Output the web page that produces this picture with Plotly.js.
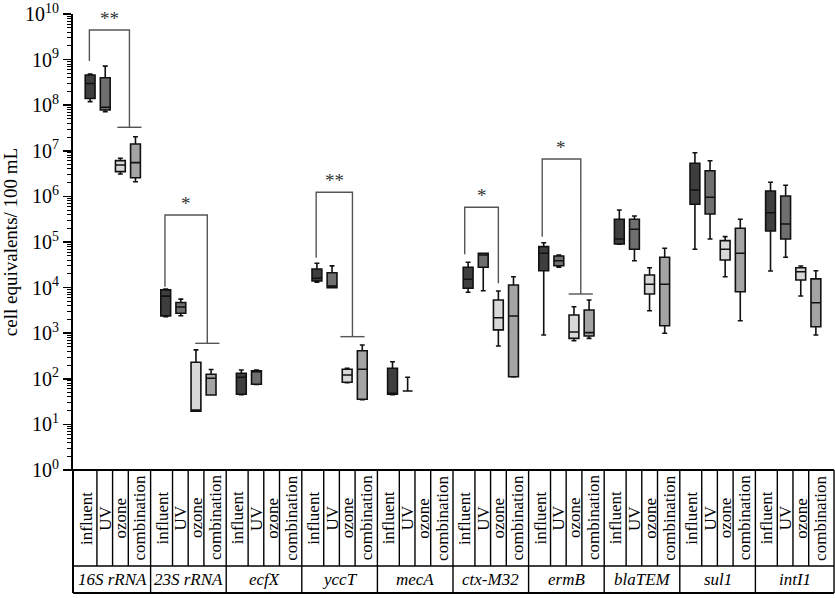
<!DOCTYPE html>
<html><head><meta charset="utf-8">
<script src="https://cdn.plot.ly/plotly-3.0.1.min.js"></script>
<style>html,body{margin:0;padding:0;background:#fff}#chart{width:835px;height:598px}</style>
</head><body><div id="chart"></div>
<script>
// ---------- data ----------
const genes = ['16S rRNA','23S rRNA','ecfX','yccT','mecA','ctx-M32','ermB','blaTEM','sul1','intI1'];
const treatments = ['influent','UV','ozone','combination'];

// influent
const influentLow  = [1.2e8, 2.3e3, 45,    1.31e4, 45,    7.9e3,  9.1e2,  9.0e4,  6.92e4, 2.31e4];
const influentQ1   = [1.4e8, 2.4e3, 46,    1.4e4,  46,    9.66e3, 2.35e4, 9.04e4, 6.71e5, 1.74e5];
const influentMed  = [3.0e8, 6.5e3, 108,   1.6e4,  47,    1.52e4, 5.65e4, 1.16e5, 1.38e6, 4.39e5];
const influentQ3   = [4.6e8, 8.9e3, 132,   2.56e4, 170,   2.79e4, 7.9e4,  3.15e5, 5.32e6, 1.31e6];
const influentHigh = [4.8e8, 9.3e3, 156,   3.41e4, 237,   3.59e4, 9.66e4, 5.04e5, 9.08e6, 2.04e6];
// UV
const uvLow  = [7.2e7, 2.42e3, 75,  9.9e3,  54,  8.55e3, 2.79e4, 3.89e4, 1.16e5, 4.62e4];
const uvQ1   = [7.85e7,2.73e3, 76,  9.95e3, 54,  2.79e4, 3.02e4, 6.92e4, 4.11e5, 1.16e5];
const uvMed  = [9.0e7, 3.76e3, 148, 1.08e4, 54,  5.2e4,  3.89e4, 1.9e5,  9.55e5, 2.48e5];
const uvQ3   = [4.0e8, 4.7e3,  150, 2.12e4, 54,  5.65e4, 4.93e4, 3.15e5, 3.66e6, 1.02e6];
const uvHigh = [7.2e8, 5.6e3,  156, 3.0e4,  108, 5.65e4, 5.19e4, 3.72e5, 6.07e6, 1.75e6];
// ozone
const ozoneLow  = [3.1e6, 19.5, null, 82,  null, 5.24e2, 6.85e2, 3.11e3, 1.73e4, 6.54e3];
const ozoneQ1   = [3.5e6, 19.5, null, 84,  null, 1.18e3, 7.7e2,  7.24e3, 4.03e4, 1.47e4];
const ozoneMed  = [4.9e6, 20,   null, 121, null, 2.19e3, 1.06e3, 1.18e4, 6.92e4, 2.23e4];
const ozoneQ3   = [6.1e6, 230,  null, 162, null, 5.35e3, 2.5e3,  1.89e4, 1.07e5, 2.73e4];
const ozoneHigh = [6.85e6,430,  null, 170, null, 8.42e3, 3.81e3, 2.73e4, 1.31e5, 2.98e4];
// combination
const comboLow  = [2.1e6,  44,  null, 35,   null, 110,    7.7e2,  9.95e2, 1.88e3, 9.1e2];
const comboQ1   = [2.57e6, 44,  null, 35.5, null, 111,    8.68e2, 1.46e3, 8.13e3, 1.39e3];
const comboMed  = [5.5e6,  103, null, 162,  null, 2.38e3, 1.03e3, 1.18e4, 5.65e4, 4.67e3];
const comboQ3   = [1.41e7, 126, null, 413,  null, 1.14e4, 3.23e3, 4.62e4, 2.0e5,  1.55e4];
const comboHigh = [2.04e7, 160, null, 550,  null, 1.73e4, 5.35e3, 7.28e4, 3.15e5, 2.35e4];

// significance brackets
const sigGenes   = ['16S rRNA','23S rRNA','yccT','ctx-M32','ermB'];
const sigLabels  = ['**','*','**','*','*'];
const sigTop     = [4.46e9, 3.91e5, 1.23e6, 5.77e5, 6.6e6];
const sigLeftEnd = [9.3e8, 1.05e4, 4.53e4, 5.37e4, 1.31e5];
const sigRightEnd= [3.28e7, 6.0e2, 8.4e2, 1.24e4, 7.24e3];
const sigHasBase = [true, true, true, false, true];

// y tick labels
const yTickVals = [1,1e1,1e2,1e3,1e4,1e5,1e6,1e7,1e8,1e9,1e10];
const yTickText = ['10<sup>0</sup>','10<sup>1</sup>','10<sup>2</sup>','10<sup>3</sup>','10<sup>4</sup>','10<sup>5</sup>','10<sup>6</sup>','10<sup>7</sup>','10<sup>8</sup>','10<sup>9</sup>','10<sup>10</sup>'];

// ---------- styling / layout config ----------
const boxFrac = [0.2, 0.4, 0.6, 0.8];
const boxFill = ['#3e3e3e', '#6f6f6f', '#d8d8d8', '#a4a4a4'];
const colDiv = [0.29, 0.497, 0.705];
const colCenter = [0.145, 0.394, 0.601, 0.853];
const sigLeftFrac  = [0.19, 0.19, 0.19, 0.155, 0.18];
const sigRightFrac = [0.72, 0.75, 0.67, 0.60, 0.69];
const XMIN = -0.0265, XMAX = 10, TABLE_RIGHT = 10.04;
const toPaper = v => (v - XMIN) / (XMAX - XMIN);
const PLOT_TOP = 14, PLOT_BOTTOM = 470, PH = PLOT_BOTTOM - PLOT_TOP;
const pyPaper = p => (PLOT_BOTTOM - p) / PH;
const SERIF = 'Liberation Serif, Times New Roman, serif';

const series = [
  {low: influentLow, q1: influentQ1, med: influentMed, q3: influentQ3, high: influentHigh},
  {low: uvLow, q1: uvQ1, med: uvMed, q3: uvQ3, high: uvHigh},
  {low: ozoneLow, q1: ozoneQ1, med: ozoneMed, q3: ozoneQ3, high: ozoneHigh},
  {low: comboLow, q1: comboQ1, med: comboMed, q3: comboQ3, high: comboHigh}
];

const traces = [];
series.forEach((s, k) => {
  const x = [], q1 = [], med = [], q3 = [], lo = [], hi = [];
  genes.forEach((g, i) => {
    if (s.med[i] == null) return;
    x.push(i + boxFrac[k]); q1.push(s.q1[i]); med.push(s.med[i]); q3.push(s.q3[i]);
    lo.push(s.low[i]); hi.push(s.high[i]);
  });
  traces.push({
    type: 'box', name: treatments[k], x: x, q1: q1, median: med, q3: q3,
    lowerfence: lo, upperfence: hi, width: 0.13, whiskerwidth: 0.5,
    fillcolor: boxFill[k], line: {color: '#111', width: 1.6},
    boxpoints: false, hoverinfo: 'skip', showlegend: false
  });
});

const annotations = [];
sigGenes.forEach((g, j) => {
  const gi = genes.indexOf(g);
  const L = gi + sigLeftFrac[j], R = gi + sigRightFrac[j];
  traces.push({type: 'scatter', mode: 'lines', x: [L, L, R, R],
    y: [sigLeftEnd[j], sigTop[j], sigTop[j], sigRightEnd[j]],
    line: {color: '#555', width: 1.4}, hoverinfo: 'skip', showlegend: false});
  if (sigHasBase[j]) {
    traces.push({type: 'scatter', mode: 'lines', x: [R - 0.16, R + 0.16],
      y: [sigRightEnd[j], sigRightEnd[j]],
      line: {color: '#555', width: 1.4}, hoverinfo: 'skip', showlegend: false});
  }
  annotations.push({xref: 'x', yref: 'y', x: (L + R) / 2, y: Math.log10(sigTop[j]),
    text: sigLabels[j], showarrow: false, xanchor: 'center', yanchor: 'bottom', yshift: -1,
    font: {size: 19, color: '#333', family: SERIF}});
});

// table below the axis
const shapes = [];
const lineStyle = {color: '#000', width: 1.4};
const yRow = pyPaper(566), yBot = pyPaper(593);
shapes.push({type: 'line', xref: 'paper', yref: 'paper', x0: toPaper(XMIN) - 0.0106, x1: toPaper(TABLE_RIGHT), y0: 0, y1: 0, line: {color: '#000', width: 2}});
shapes.push({type: 'line', xref: 'paper', yref: 'paper', x0: 0, x1: toPaper(TABLE_RIGHT), y0: yRow, y1: yRow, line: lineStyle});
shapes.push({type: 'line', xref: 'paper', yref: 'paper', x0: 0, x1: toPaper(TABLE_RIGHT), y0: yBot, y1: yBot, line: {color: '#000', width: 2}});
shapes.push({type: 'line', xref: 'paper', yref: 'paper', x0: 0, x1: 0, y0: 0, y1: yBot, line: {color: '#000', width: 2}});
shapes.push({type: 'line', xref: 'paper', yref: 'paper', x0: toPaper(TABLE_RIGHT), x1: toPaper(TABLE_RIGHT), y0: 0, y1: yBot, line: lineStyle});
genes.forEach((g, i) => {
  if (i > 0) shapes.push({type: 'line', xref: 'paper', yref: 'paper', x0: toPaper(i), x1: toPaper(i), y0: 0, y1: yBot, line: lineStyle});
  colDiv.forEach(f => shapes.push({type: 'line', xref: 'paper', yref: 'paper', x0: toPaper(i + f), x1: toPaper(i + f), y0: 0, y1: yRow, line: lineStyle}));
  treatments.forEach((t, k) => {
    annotations.push({xref: 'paper', yref: 'paper', x: toPaper(i + colCenter[k]), y: pyPaper(518),
      text: t, textangle: -90, showarrow: false, xanchor: 'center', yanchor: 'middle',
      font: {size: 17, color: '#000', family: SERIF}});
  });
  const gx = i === genes.length - 1 ? (i + TABLE_RIGHT) / 2 : i + 0.5;
  annotations.push({xref: 'paper', yref: 'paper', x: toPaper(gx), y: pyPaper(579.5),
    text: '<i>' + g + '</i>', showarrow: false, xanchor: 'center', yanchor: 'middle',
    font: {size: 17, color: '#000', family: SERIF}});
});

const minorVals = [];
for (let e = 0; e < 10; e++) for (let m = 2; m <= 9; m++) minorVals.push(m * Math.pow(10, e));

const layout = {
  width: 835, height: 598,
  margin: {l: 73, r: 4, t: PLOT_TOP, b: 598 - PLOT_BOTTOM},
  paper_bgcolor: '#fff', plot_bgcolor: '#fff', showlegend: false,
  font: {family: SERIF, color: '#000'},
  boxmode: 'overlay',
  xaxis: {range: [XMIN, XMAX], showticklabels: false, ticks: '', showgrid: false, zeroline: false,
    showline: false, fixedrange: true},
  yaxis: {type: 'log', range: [0, 10], tickmode: 'array', tickvals: yTickVals, ticktext: yTickText,
    ticks: 'outside', ticklen: 8, tickwidth: 1.5, tickcolor: '#000',
    showline: true, linewidth: 2, linecolor: '#000', showgrid: false, zeroline: false,
    tickfont: {size: 20, color: '#000', family: SERIF}, automargin: false, ticklabeloverflow: 'allow',
    minor: {tickmode: 'array', tickvals: minorVals, ticks: 'outside', ticklen: 4, tickwidth: 1, tickcolor: '#000', showgrid: false},
    title: {text: 'cell equivalents/ 100 mL', font: {size: 19, color: '#000', family: SERIF}, standoff: 4}},
  shapes: shapes, annotations: annotations
};

Plotly.newPlot('chart', traces, layout, {staticPlot: true, displayModeBar: false});
</script>
</body></html>
